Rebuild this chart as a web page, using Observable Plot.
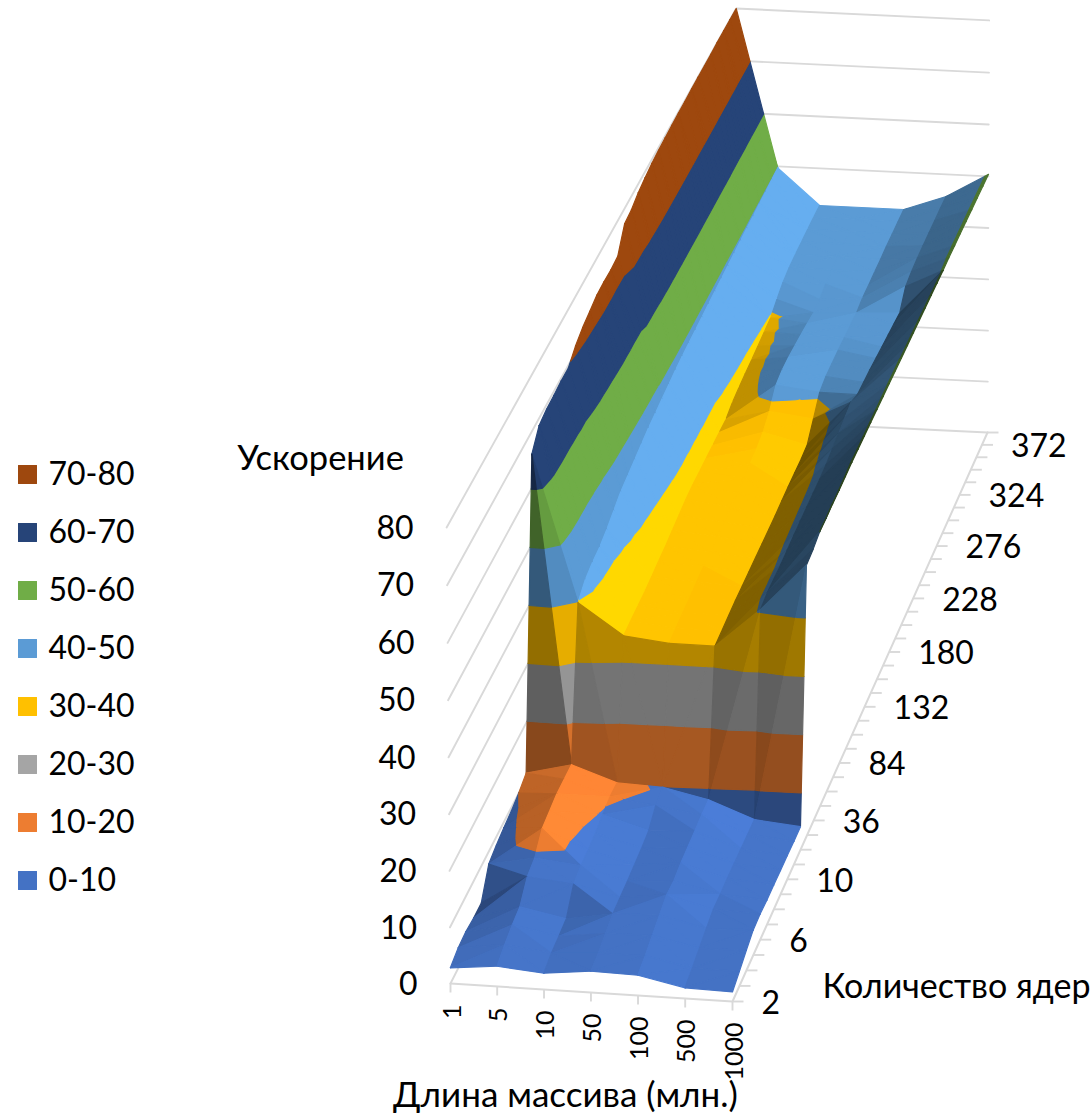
<!DOCTYPE html>
<html lang="ru">
<head>
<meta charset="utf-8">
<title>Ускорение</title>
<style>
  html, body { margin: 0; padding: 0; background: #fff; }
  svg { display: block; }
</style>
<script src="https://cdn.jsdelivr.net/npm/d3@7"></script>
<script src="https://cdn.jsdelivr.net/npm/@observablehq/plot@0.6"></script>
</head>
<body>
<div id="chart"></div>
<script>
// Array lengths (millions) along the front axis
const lengths = ["1", "5", "10", "50", "100", "500", "1000"];
// Core counts along the depth axis; only every fourth one is labelled
const cores = [2, 3, 4, 5, 6, 7, 8, 9, 10, 12, 16, 24, 36, 48, 60, 72, 84, 96, 108, 120, 132,
  144, 156, 168, 180, 192, 204, 216, 228, 240, 252, 264, 276, 288, 300, 312, 324, 336, 348, 360, 372, 384];

// Acceleration for each array length, one value per core count
const accel1 = [2.8, 3.6, 3.8, 3.5, 3.5, 7.8, 8.5, 9, 9.4, 10, 11, 66, 68.7, 69.2, 69.3, 69.5, 69.5, 71.1, 72.1, 72.7, 73.3,
  73.4, 73.3, 73.5, 77.2, 77.5, 78.4, 78.9, 79.3, 79.5, 79.6, 79.7, 79.8, 79.8, 79.9, 79.9, 79.9, 79.9, 80, 80, 80, 80];
const accel5 = [3.6, 4.7, 5.5, 6, 8.7, 9.4, 12, 12.5, 13, 13, 13, 39.8, 41.4, 42, 42.3, 43, 44, 45, 45.5, 46, 46.5,
  47, 47.3, 47.6, 47.9, 48.2, 48.4, 48.5, 48.6, 48.7, 48.8, 48.9, 49, 49.1, 49.2, 49.3, 49.4, 49.4, 49.5, 49.5, 49.6, 49.7];
const accel10 = [2.9, 3.7, 4, 4.4, 7.9, 8.5, 8.6, 9, 9.7, 10.3, 10.2, 34.3, 34.5, 34.6, 34.7, 35, 35.3, 35.6, 36, 36.4, 36.8,
  37, 37, 37, 37, 37, 37, 37.8, 38.2, 38.5, 38.7, 39, 39.3, 39.6, 40.8, 41.8, 42.3, 42.5, 42.6, 42.7, 42.8, 42.8];
const accel50 = [3.8, 4.2, 5, 5.8, 6, 6.2, 6.5, 6.8, 7.3, 9.2, 9.9, 33.4, 33.7, 34, 34.2, 34.5, 34.8, 35, 35.3, 35.5, 35.8,
  36, 36.2, 36.5, 36.8, 37.5, 39, 41.5, 42, 42, 41.8, 41.6, 41.3, 41, 41.2, 41.8, 42.2, 42.5, 42.6, 42.7, 42.8, 42.8];
const accel100 = [3.6, 4.3, 5.2, 6.1, 7, 6.8, 7.3, 7.5, 7.7, 8, 8.1, 33.4, 33.6, 33.8, 34, 34.1, 34.2, 34.3, 34.4, 34.5, 34.6,
  34.8, 35, 35.1, 35.2, 35.5, 38, 40.6, 41.2, 41.3, 41.4, 41.4, 41.4, 41.4, 41.9, 42, 42.2, 42.3, 42.5, 42.6, 42.7, 42.8];
const accel500 = [1.9, 2.6, 3.4, 4.2, 4.9, 4.9, 5, 5, 5, 5, 5, 40.5, 41, 41, 41, 41.2, 41.4, 41.5, 41.6, 41.7, 41.8,
  42, 42.5, 43, 43.5, 44, 43, 42.9, 42.8, 42.6, 42.4, 42.2, 42, 41.8, 44.5, 45, 45.3, 45.4, 45.5, 45.6, 45.7, 45.7];
const accel1000 = [1.7, 2.6, 3.6, 4.5, 4.6, 4.4, 4.4, 4.3, 4.3, 4.2, 4.2, 49, 49.3, 50, 50, 50.1, 50.1, 50.2, 50.3, 50.3, 50.3,
  50.3, 50.3, 50.3, 50.3, 50.3, 50.3, 50.3, 50.3, 50.3, 50.3, 50.3, 50.3, 50.3, 50.4, 50.4, 50.4, 50.4, 50.4, 50.4, 50.4, 50.4];
const surface = [accel1, accel5, accel10, accel50, accel100, accel500, accel1000];

// Value bands and their colours, lowest first
const bandLabels = ["0-10", "10-20", "20-30", "30-40", "40-50", "50-60", "60-70", "70-80"];
const bandColors = ["#4472C4", "#ED7D31", "#A5A5A5", "#FFC000", "#5B9BD5", "#70AD47", "#264478", "#9E480E"];
const axisValues = [0, 10, 20, 30, 40, 50, 60, 70, 80];

const lastI = lengths.length - 1, lastJ = cores.length - 1, zMax = 80;
const bandWidth = 10;
const gridColor = "#D9D9D9";
const fontFamily = "Lato, Carlito, sans-serif";

// Perspective mapping of (length index, core index, value) to the page
function project(i, j, z) {
  const u = i / lastI, v = j / lastJ, w = z / zMax;
  const d = 1 - 0.00787 * u + 0.127 * v - 0.016 * w;
  return [(276.24 * u + 378.35 * v + 450 - 11 * w - 3 * u * w) / d,
          (10.13 * u - 509.65 * v + 983 - 464.5 * w + 3 * u * w) / d];
}

// Keep the part of a triangle that lies between two values
function clipBand(tri, lo, hi) {
  const clip = (poly, keep, level) => {
    const out = [];
    poly.forEach((a, n) => {
      const b = poly[(n + 1) % poly.length];
      const inA = keep(a[2]), inB = keep(b[2]);
      if (inA) out.push(a);
      if (inA !== inB) {
        const t = (level - a[2]) / (b[2] - a[2]);
        out.push([a[0] + t * (b[0] - a[0]), a[1] + t * (b[1] - a[1]), level]);
      }
    });
    return out;
  };
  let poly = clip(tri, z => z >= lo, lo);
  if (poly.length) poly = clip(poly, z => z <= hi, hi);
  return poly;
}

// Facet brightness from its slope across lengths (si) and across core counts (sj)
function brightness(si, sj) {
  const soft = Math.abs(sj) < 1.5 || (si < -15 && sj < 8) ? 0 : sj - 1.5 * Math.sign(sj);
  const bj = soft >= 0
    ? (soft <= 10 ? 1 - 0.026 * soft : Math.max(0.58, 0.74 - 0.0035 * (soft - 10)))
    : 1 + 0.03 * Math.min(1, -soft / 2);
  let bi = 1;
  if (si > 0) {
    const dark = si < 1.2 ? 0.04 * si : Math.min(0.6, 0.07 * si);
    bi = 1 - dark / (1 + Math.max(0, sj) / 10);
  } else {
    const s = -si;
    if (sj > 5) {
      bi = 1 + Math.min(0.32, Math.max(0, s - 10) * 0.02);
    } else {
      bi = 1 + (s <= 4 ? 0.12 * s / 4 : s <= 15 ? 0.12 : s <= 20 ? 0.12 - 0.11 * (s - 15) / 5 : 0.01);
    }
  }
  // Nearly equal facets share one tone
  return Math.round(bj * bi / 0.025) * 0.025;
}

function shade(hex, b) {
  const c = d3.rgb(hex);
  const f = v => Math.max(0, Math.min(255, Math.round(v * b)));
  return d3.rgb(f(c.r), f(c.g), f(c.b)).formatHex();
}

// Slice every grid cell into two triangles, then into value bands, back row first
const facets = [];
let facetId = 0;
for (let j = lastJ - 1; j >= 0; --j) {
  for (let i = 0; i < lastI; ++i) {
    const p00 = [i, j, surface[i][j]], p10 = [i + 1, j, surface[i + 1][j]];
    const p01 = [i, j + 1, surface[i][j + 1]], p11 = [i + 1, j + 1, surface[i + 1][j + 1]];
    // The crease runs along the diagonal with the larger sum
    const tris = p01[2] + p10[2] >= p00[2] + p11[2]
      ? [[p01, p11, p10], [p00, p01, p10]]
      : [[p00, p11, p01], [p00, p10, p11]];
    for (const tri of tris) {
      const [a, b, c] = tri;
      const ux = b[0] - a[0], uy = b[1] - a[1], uz = b[2] - a[2];
      const vx = c[0] - a[0], vy = c[1] - a[1], vz = c[2] - a[2];
      const nz = ux * vy - uy * vx;
      const si = -(uy * vz - uz * vy) / nz, sj = -(uz * vx - ux * vz) / nz;
      const light = brightness(si, sj);
      bandColors.forEach((color, k) => {
        const poly = clipBand(tri, k * bandWidth, (k + 1) * bandWidth);
        if (poly.length < 3) return;
        const fill = shade(color, light);
        const id = facetId++;
        for (const [pi, pj, pz] of poly) {
          const [x, y] = project(pi, pj, pz);
          facets.push({id, x, y, fill});
        }
      });
    }
  }
}

// Walls: each value line runs along the left side, then along the back
const wallLines = axisValues.flatMap(z => [[0, 0], [0, lastJ], [lastI, lastJ]].map(([i, j]) => {
  const [x, y] = project(i, j, z);
  return {z, x, y};
}));
// Floor outline
const floorLine = [[0, 0], [lastI, 0], [lastI, lastJ]].map(([i, j]) => {
  const [x, y] = project(i, j, 0);
  return {x, y};
});
// Ticks along the front and the right edge of the floor
const frontTicks = lengths.map((label, i) => {
  const [x, y] = project(i, 0, 0);
  return {label, x, y};
});
const depthTicks = cores.map((label, j) => {
  const [x, y] = project(lastI, j, 0);
  return {label, j, x, y};
});
const valueLabels = axisValues.map(z => {
  const [x, y] = project(0, 0, z);
  return {z, x, y};
});
const legendRows = bandLabels.map((label, k) => ({label, color: bandColors[k], row: bandLabels.length - 1 - k}));

const chart = Plot.plot({
  width: 1091,
  height: 1115,
  margin: 0,
  x: {domain: [0, 1091], range: [0, 1091], axis: null},
  y: {domain: [0, 1115], range: [0, 1115], axis: null},
  color: {type: "identity"},
  style: {background: "#fff", fontFamily, color: "#000", overflow: "visible"},
  marks: [
    Plot.line(wallLines, {x: "x", y: "y", z: "z", stroke: gridColor, strokeWidth: 1.9}),
    Plot.line(floorLine, {x: "x", y: "y", stroke: gridColor, strokeWidth: 2}),
    Plot.link(frontTicks, {x1: "x", y1: "y", x2: "x", y2: d => d.y + 9, stroke: gridColor, strokeWidth: 1.9}),
    Plot.link(depthTicks, {x1: "x", y1: "y", x2: d => d.x + 11, y2: "y", stroke: gridColor, strokeWidth: 1.9}),
    Plot.line(facets, {x: "x", y: "y", z: "id", fill: "fill", stroke: "fill", strokeWidth: 1.2, strokeLinejoin: "round", curve: "linear-closed"}),
    Plot.text(valueLabels, {x: "x", y: "y", text: d => String(d.z), textAnchor: "end", dx: -33, dy: 1, fontSize: 32, fill: "#000"}),
    Plot.text(frontTicks, {x: "x", y: d => d.y + 21, text: "label", rotate: -90, textAnchor: "end", dx: 2, fontSize: 25, fill: "#000"}),
    Plot.text(depthTicks.filter(d => d.j % 4 === 0), {x: "x", y: "y", text: d => String(d.label), textAnchor: "start", dx: 29, dy: 2, fontSize: 32, fill: "#000"}),
    Plot.text(["Ускорение"], {x: 320, y: 458, text: d => d, fontSize: 34.5, fill: "#000"}),
    Plot.text(["Количество ядер"], {x: 822, y: 987, text: d => d, textAnchor: "start", fontSize: 34, fill: "#000"}),
    Plot.text(["Длина массива (млн.)"], {x: 565, y: 1095, text: d => d, fontSize: 35, fill: "#000"}),
    Plot.dot(legendRows, {x: 27, y: d => 474 + d.row * 58, symbol: "square", r: 10.7, fill: "color", stroke: null}),
    Plot.text(legendRows, {x: 48, y: d => 474 + d.row * 58, text: "label", textAnchor: "start", fontSize: 32, fill: "#000"})
  ]
});
document.getElementById("chart").append(chart);
</script>
</body>
</html>
